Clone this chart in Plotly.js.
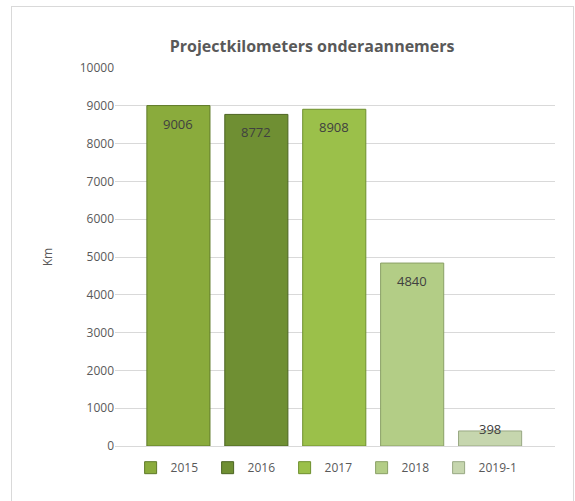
<!DOCTYPE html>
<html>
<head>
<meta charset="utf-8">
<script src="https://cdn.plot.ly/plotly-3.0.1.min.js"></script>
<style>
html,body{margin:0;padding:0;background:#fff;overflow:hidden;}
#frame{position:absolute;left:11px;top:6px;width:561px;height:500px;border:1px solid #d9d9d9;border-bottom:none;}
#chart{width:561px;height:495px;}
</style>
</head>
<body>
<div id="frame"><div id="chart"></div></div>
<script>
const categories = ['2015', '2016', '2017', '2018', '2019-1'];
const values = [9006, 8772, 8908, 4840, 398];
const colors = ['#8aab3c', '#6f8f33', '#9bc04a', '#b3cd86', '#c6d6ae'];
const lineColors = ['#5f7a28', '#4c6522', '#6e8f2e', '#8aa066', '#98a883'];
const yTicks = [0, 1000, 2000, 3000, 4000, 5000, 6000, 7000, 8000, 9000, 10000];

const traces = categories.map((c, i) => ({
  type: 'bar',
  name: c,
  x: [i],
  y: [values[i]],
  marker: {color: colors[i], line: {color: lineColors[i], width: 1}},
  hoverinfo: 'none'
}));

const annotations = categories.map((c, i) => ({
  x: i,
  y: values[i],
  xref: 'x', yref: 'y',
  text: String(values[i]),
  showarrow: false,
  yanchor: 'middle',
  yshift: values[i] > 1000 ? -18 : 2,
  font: {family: 'Open Sans, Liberation Sans, sans-serif', size: 13, color: '#404040'}
}));

const layout = {
  width: 561, height: 495,
  margin: {l: 103, r: 18, t: 61, b: 56},
  paper_bgcolor: '#ffffff', plot_bgcolor: '#ffffff',
  barmode: 'overlay',
  bargap: 0.19,
  title: {
    text: '<b>Projectkilometers onderaannemers</b>',
    x: 0.535, xanchor: 'center', y: 0.92, yanchor: 'middle',
    font: {family: 'Open Sans, Liberation Sans, sans-serif', size: 16, color: '#595959'}
  },
  xaxis: {
    range: [-0.814, 4.833],
    showticklabels: false, ticks: '',
    showgrid: false, zeroline: false,
    showline: true, linecolor: '#d9d9d9', linewidth: 1,
    fixedrange: true
  },
  yaxis: {
    range: [0, 10000],
    tickvals: yTicks,
    ticktext: yTicks.map(String),
    showgrid: true, gridcolor: '#d9d9d9', gridwidth: 1,
    zeroline: false, showline: false,
    ticks: '', ticklen: 0,
    tickfont: {family: 'Open Sans, Liberation Sans, sans-serif', size: 12, color: '#595959'},
    title: {text: 'Km', standoff: 24, font: {family: 'Open Sans, Liberation Sans, sans-serif', size: 12, color: '#595959'}},
    fixedrange: true
  },
  showlegend: true,
  legend: {
    orientation: 'h',
    x: 0.473, xanchor: 'center',
    y: -0.019, yanchor: 'top',
    itemwidth: 30,
    entrywidth: 32,
    entrywidthmode: 'pixels',
    font: {family: 'Open Sans, Liberation Sans, sans-serif', size: 12, color: '#595959'},
    traceorder: 'normal'
  },
  annotations: annotations
};

Plotly.newPlot('chart', traces, layout, {displayModeBar: false, staticPlot: true});
</script>
</body>
</html>
